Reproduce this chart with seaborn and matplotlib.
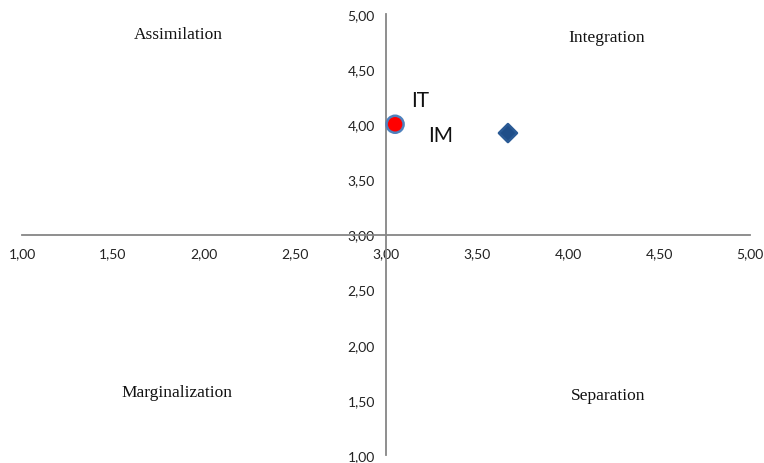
import pandas as pd
import numpy as np

import matplotlib.pyplot as plt
import seaborn as sns
from matplotlib.ticker import FuncFormatter

# -----------------------------
# data
# -----------------------------
groups = ["IT", "IM"]
x_vals = [3.05, 3.67]
y_vals = [4.00, 3.92]

quadrants = ["Assimilation", "Integration", "Marginalization", "Separation"]
quad_x = [1.86, 4.21, 1.85, 4.22]
quad_y = [4.82, 4.79, 1.57, 1.545]

df = pd.DataFrame({"group": groups, "x": x_vals, "y": y_vals})

sns.set_style("white")
plt.rcParams["font.family"] = ["Lato", "DejaVu Sans"]

fig = plt.figure(figsize=(7.64, 4.64), dpi=100)
ax = fig.add_axes([22 / 764, 8 / 464, 728 / 764, 441 / 464])

sns.scatterplot(
    data=df, x="x", y="y", hue="group", style="group",
    palette={"IT": "#ff0000", "IM": "#1f4e89"},
    markers={"IT": "o", "IM": "D"},
    s=140, ax=ax, legend=False, zorder=3,
)
# marker edges
colls = ax.collections
colls[0].set_edgecolor(["#4f81bd", "#2a5a95"])
colls[0].set_linewidth(1.8)
colls[0].set_sizes([150, 85])

ax.set_xlim(1, 5)
ax.set_ylim(1, 5)
ax.set_xticks(np.arange(1, 5.01, 0.5))
ax.set_yticks(np.arange(1, 5.01, 0.5))

fmt = FuncFormatter(lambda v, p: f"{v:.2f}".replace(".", ","))
ax.xaxis.set_major_formatter(fmt)
ax.yaxis.set_major_formatter(fmt)

for s in ["top", "right"]:
    ax.spines[s].set_visible(False)
ax.spines["left"].set_position(("data", 3))
ax.spines["bottom"].set_position(("data", 3))
for s in ["left", "bottom"]:
    ax.spines[s].set_color("#868686")
    ax.spines[s].set_linewidth(1.3)

ax.tick_params(axis="both", length=0, labelsize=10, colors="#222222")
ax.tick_params(axis="x", pad=9)
ax.tick_params(axis="y", pad=8)
ax.set_xlabel("")
ax.set_ylabel("")

# point labels
ax.text(3.19, 4.22, "IT", fontsize=15, ha="center", va="center", color="#111111")
ax.text(3.30, 3.90, "IM", fontsize=15, ha="center", va="center", color="#111111")

# quadrant labels
for name, qx, qy in zip(quadrants, quad_x, quad_y):
    ax.text(qx, qy, name, fontsize=12.5, ha="center", va="center",
            family="Liberation Serif", color="#111111")

fig.savefig("out.png", dpi=100)
